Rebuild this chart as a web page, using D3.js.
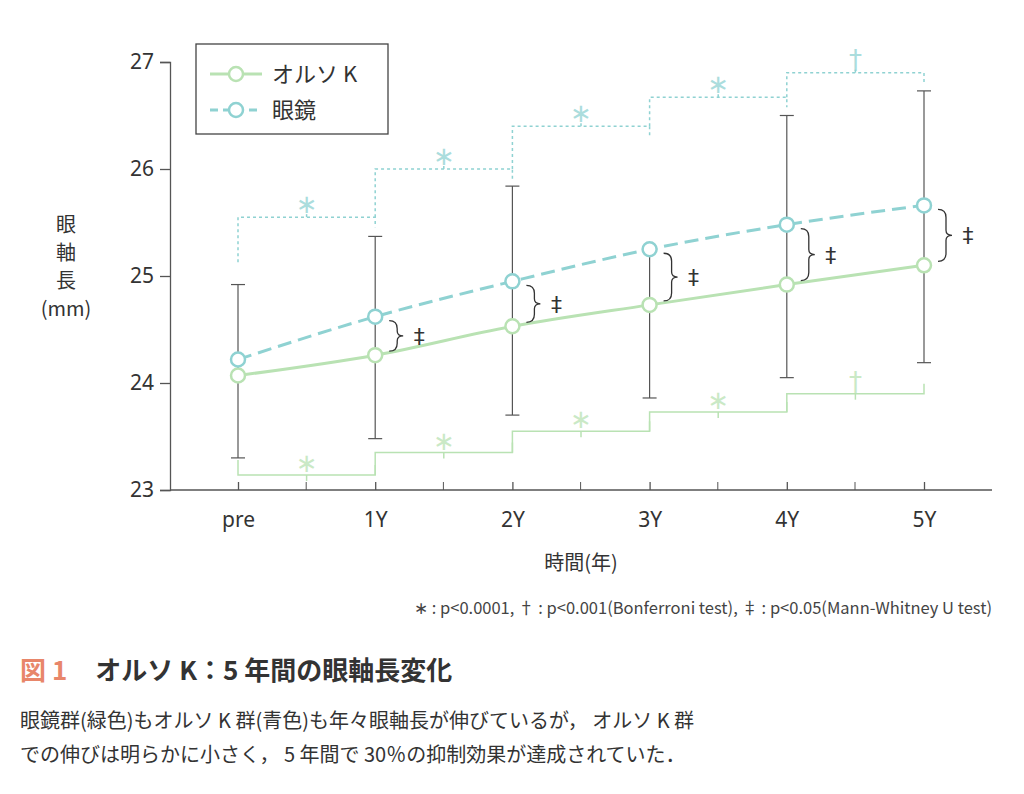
<!DOCTYPE html>
<html><head><meta charset="utf-8">
<script src="https://cdn.jsdelivr.net/npm/d3@7"></script>
<style>body{margin:0;background:#fff;font-family:"Noto Sans CJK JP","Noto Sans",sans-serif;}</style>
</head><body><svg id="chart" width="1024" height="794"></svg>
<script>
// Data
const categories = ["pre", "1Y", "2Y", "3Y", "4Y", "5Y"];
const orthoK = [24.07, 24.26, 24.53, 24.73, 24.92, 25.10];
const glasses = [24.22, 24.62, 24.95, 25.25, 25.48, 25.66];
const errTop = [24.92, 25.37, 25.84, 25.25, 26.50, 26.73];
const errBottom = [23.30, 23.48, 23.70, 23.86, 24.05, 24.19];
const topLevels = [25.55, 26.00, 26.40, 26.67, 26.90];
const topMarks = ["*", "*", "*", "*", "†"];
const bottomLevels = [23.14, 23.35, 23.55, 23.73, 23.90];
const bottomMarks = ["*", "*", "*", "*", "†"];
const yTicks = [23, 24, 25, 26, 27];

const green = "#b9e2b3", cyan = "#8fd2d2", axisCol = "#555";
const svg = d3.select("#chart");
const x = d3.scalePoint().domain(categories).range([238, 924]);
const y = d3.scaleLinear().domain([23, 27]).range([490, 62]);

// Axes
const yAxis = svg.append("g").attr("transform", "translate(170,0)")
  .call(d3.axisLeft(y).tickValues(yTicks).tickFormat(d3.format("d")).tickSize(10).tickPadding(6));
const xAxis = svg.append("g").attr("transform", "translate(0,490)")
  .call(d3.axisBottom(x).tickSize(8).tickPadding(14));
xAxis.select(".domain").attr("d", "M170,0H992");
[yAxis, xAxis].forEach(a => {
  a.selectAll("path,line").attr("stroke", axisCol).attr("stroke-width", 1.3);
  a.selectAll("text").attr("fill", "#333").attr("font-size", 21).attr("font-family", "Noto Sans");
});
xAxis.selectAll(".tick line").attr("y2", -8);
svg.append("g").attr("transform", "translate(0,490)")
  .selectAll("line").data(categories.slice(1)).join("line")
  .attr("x1", d => x(d) - 69).attr("x2", d => x(d) - 69).attr("y1", 0).attr("y2", -8)
  .attr("stroke", axisCol);

svg.append("text").attr("x", 66).attr("y", 232).attr("text-anchor", "middle")
  .attr("font-size", 20).attr("fill", "#333")
  .selectAll("tspan").data(["眼", "軸", "長", "(mm)"]).join("tspan")
  .attr("x", 66).attr("dy", (d, i) => i ? 28 : 0).text(d => d);
svg.append("text").attr("x", 581).attr("y", 570).attr("text-anchor", "middle")
  .attr("font-size", 20).attr("fill", "#333").text("時間(年)");

// Error bars
const eb = svg.append("g").attr("stroke", "#555").attr("stroke-width", 1.2);
categories.forEach((c, i) => {
  eb.append("line").attr("x1", x(c)).attr("x2", x(c)).attr("y1", y(errTop[i])).attr("y2", y(errBottom[i]));
  [errTop[i], errBottom[i]].forEach(v => eb.append("line")
    .attr("x1", x(c) - 7).attr("x2", x(c) + 7).attr("y1", y(v)).attr("y2", y(v)));
});

// Significance steps
function steps(levels, marks, col, dash, up) {
  const g = svg.append("g").attr("fill", "none").attr("stroke", col).attr("stroke-width", 1.5)
    .attr("stroke-dasharray", dash);
  levels.forEach((lv, i) => {
    const x0 = x(categories[i]), x1 = x(categories[i + 1]);
    const prevY = i === 0 ? y(lv) + (up ? 45 : -15) : y(levels[i - 1]);
    g.append("path").attr("d", `M${x0},${prevY}V${y(lv)}H${x1}V${y(lv) + (up ? 10 : -10)}`);
    g.append("line").attr("x1", (x0 + x1) / 2).attr("x2", (x0 + x1) / 2)
      .attr("y1", y(lv)).attr("y2", y(lv) + (up ? -6 : 6));
    svg.append("text").attr("x", (x0 + x1) / 2).attr("y", y(lv) + (up ? -4 : -3))
      .attr("text-anchor", "middle").attr("fill", col).attr("font-size", 26).attr("opacity", 0.75)
      .attr("font-family", "DejaVu Sans").text(marks[i] === "*" ? "∗" : "†");
  });
}
steps(topLevels, topMarks, cyan, "3,3", true);
steps(bottomLevels, bottomMarks, green, null, false);

// Lines
const line = d3.line().x((d, i) => x(categories[i])).y(d => y(d)).curve(d3.curveMonotoneX);
svg.append("path").datum(orthoK).attr("d", line).attr("fill", "none").attr("stroke", green).attr("stroke-width", 3);
svg.append("path").datum(glasses).attr("d", line).attr("fill", "none").attr("stroke", cyan)
  .attr("stroke-width", 3).attr("stroke-dasharray", "14,7");
[[orthoK, green], [glasses, cyan]].forEach(([s, col]) =>
  svg.append("g").selectAll("circle").data(s).join("circle")
    .attr("cx", (d, i) => x(categories[i])).attr("cy", d => y(d)).attr("r", 7)
    .attr("fill", "#fff").attr("stroke", col).attr("stroke-width", 2.5));

// Braces with ‡
categories.slice(1).forEach((c, j) => {
  const i = j + 1, xb = x(c) + 14, y0 = y(glasses[i]) + 4, y1 = y(orthoK[i]) - 4, ym = (y0 + y1) / 2;
  svg.append("path").attr("fill", "none").attr("stroke", "#333").attr("stroke-width", 1.3)
    .attr("d", `M${xb},${y0}Q${xb + 8},${y0} ${xb + 8},${y0 + 8}V${ym - 5}Q${xb + 8},${ym} ${xb + 14},${ym}Q${xb + 8},${ym} ${xb + 8},${ym + 5}V${y1 - 8}Q${xb + 8},${y1} ${xb},${y1}`);
  svg.append("text").attr("x", xb + 30).attr("y", ym + 8).attr("text-anchor", "middle")
    .attr("font-size", 22).attr("fill", "#333").attr("font-family", "DejaVu Sans").text("‡");
});

// Legend
const lg = svg.append("g");
lg.append("rect").attr("x", 196).attr("y", 44).attr("width", 192).attr("height", 90)
  .attr("fill", "#fff").attr("stroke", "#444").attr("stroke-width", 1.3);
[["オルソ K", green, null, 74], ["眼鏡", cyan, "8,5", 110]].forEach(([t, col, dash, ly]) => {
  lg.append("line").attr("x1", 210).attr("x2", 262).attr("y1", ly).attr("y2", ly)
    .attr("stroke", col).attr("stroke-width", 3).attr("stroke-dasharray", dash);
  lg.append("circle").attr("cx", 236).attr("cy", ly).attr("r", 7).attr("fill", "#fff")
    .attr("stroke", col).attr("stroke-width", 2.5);
  lg.append("text").attr("x", 272).attr("y", ly + 8).attr("font-size", 22).attr("fill", "#333").text(t);
});

// Footnotes and caption
svg.append("text").attr("x", 992).attr("y", 614).attr("text-anchor", "end").attr("font-size", 16.5)
  .attr("fill", "#444").text("∗ : p<0.0001, † : p<0.001(Bonferroni test), ‡ : p<0.05(Mann-Whitney U test)");
const cap = svg.append("text").attr("x", 20).attr("y", 680).attr("font-size", 26).attr("font-weight", "bold");
cap.append("tspan").attr("fill", "#e8866a").text("図 1");
cap.append("tspan").attr("dx", 28).attr("fill", "#333").text("オルソ K：5 年間の眼軸長変化");
["眼鏡群(緑色)もオルソ K 群(青色)も年々眼軸長が伸びているが， オルソ K 群",
 "での伸びは明らかに小さく， 5 年間で 30％の抑制効果が達成されていた．"].forEach((t, i) =>
  svg.append("text").attr("x", 20).attr("y", 728 + i * 34).attr("font-size", 20).attr("fill", "#333").text(t));
</script></body></html>
